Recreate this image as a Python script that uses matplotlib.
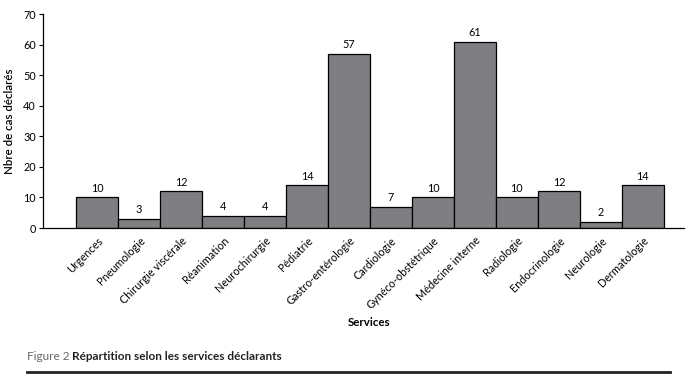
import matplotlib
matplotlib.use("Agg")
import matplotlib.pyplot as plt
from matplotlib.lines import Line2D

services = ["Urgences", "Pneumologie", "Chirurgie viscérale", "Réanimation",
            "Neurochirurgie", "Pédiatrie", "Gastro-entérologie", "Cardiologie",
            "Gynéco-obstétrique", "Médecine interne", "Radiologie",
            "Endocrinologie", "Neurologie", "Dermatologie"]
cases = [10, 3, 12, 4, 4, 14, 57, 7, 10, 61, 10, 12, 2, 14]
yticks = [0, 10, 20, 30, 40, 50, 60, 70]

plt.rcParams['font.family'] = ['Lato', 'DejaVu Sans']

fig = plt.figure(figsize=(6.88, 3.81), dpi=100)
ax = fig.add_axes([43/688, 1-228/381, (684-43)/688, (228-14)/381])

x = list(range(len(services)))
ax.bar(x, cases, width=1.0, color="#7f7f83", edgecolor="black", linewidth=0.9)
for xi, v in zip(x, cases):
    ax.text(xi, v + 1.2, str(v), ha="center", va="bottom", fontsize=7.8)

ax.set_xlim(-1.29, 13.98)
ax.set_ylim(0, 70)
ax.set_yticks(yticks)
ax.set_yticklabels([str(t) for t in yticks], fontsize=7.8)
ax.set_xticks(x)
ax.set_xticklabels(services, rotation=45, ha="right", rotation_mode="anchor", fontsize=7.8)
ax.tick_params(axis="x", length=0, pad=5)
ax.tick_params(axis="y", length=3, width=0.8, pad=2)
for s in ["top", "right"]:
    ax.spines[s].set_visible(False)
ax.spines["left"].set_linewidth(0.9)
ax.spines["bottom"].set_linewidth(0.9)

ax.set_ylabel("Nbre de cas déclarés", fontsize=8.3, fontweight="semibold", labelpad=6)
fig.text(369/688, 1-322/381, "Services", ha="center", va="center", fontsize=8.3, fontweight="bold")

t1 = fig.text(27/688, 1-357/381, "Figure 2 ", ha="left", va="center", fontsize=8.5, color="#666666")
fig.canvas.draw()
bb = t1.get_window_extent()
fig.text(bb.x1/688, 1-357/381, "Répartition selon les services déclarants", ha="left", va="center",
         fontsize=8.5, fontweight="bold", color="#222222")
fig.add_artist(Line2D([27/688, 670/688], [1-372/381, 1-372/381], color="#222222", linewidth=2))

fig.savefig("out.png", dpi=100)
